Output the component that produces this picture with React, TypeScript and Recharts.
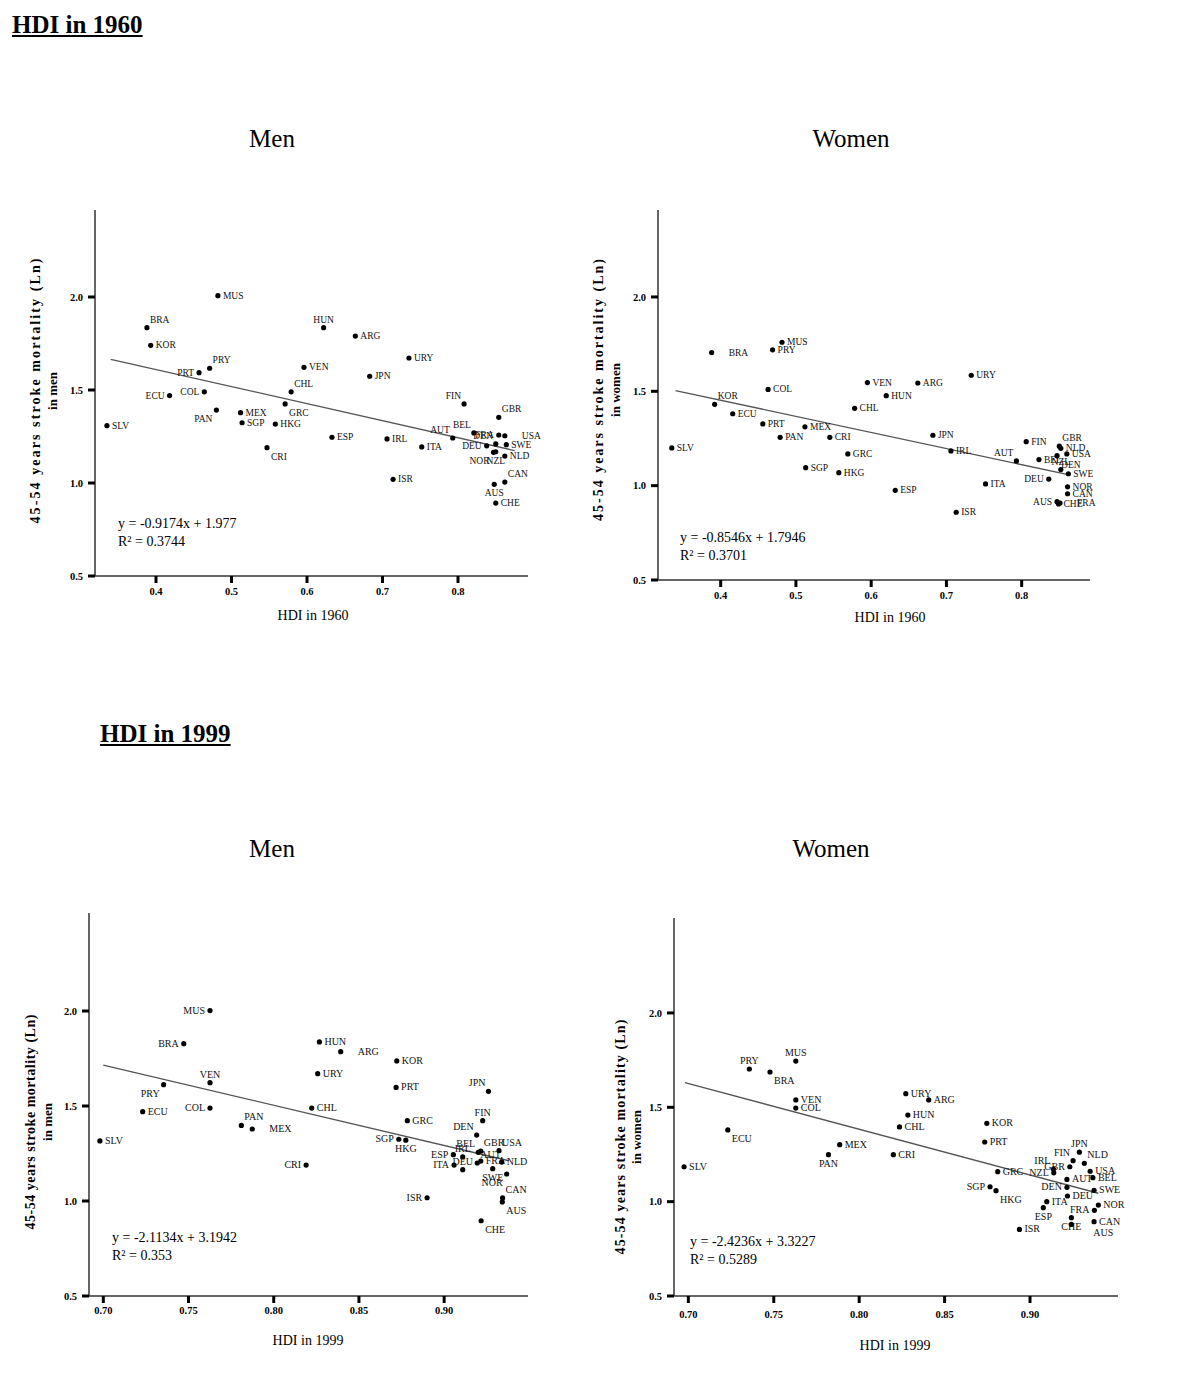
import React from "react";
import { ScatterChart, Scatter, XAxis, YAxis, ReferenceLine } from "recharts";

const SERIF = '"Liberation Serif", "Times New Roman", serif';

// HDI in 1960 - men
const men60Codes = ["SLV", "BRA", "KOR", "MUS", "PRY", "PRT", "ECU", "COL", "PAN", "MEX", "SGP", "HKG", "GRC", "CHL", "CRI", "VEN", "HUN", "ARG", "URY", "JPN", "ESP", "IRL", "ITA", "ISR", "FIN", "AUT", "BEL", "FRA", "USA", "GBR", "DEU", "DEN", "SWE", "NZL", "NOR", "NLD", "CAN", "AUS", "CHE"];
const men60Hdi = [0.335, 0.388, 0.393, 0.482, 0.471, 0.457, 0.418, 0.464, 0.48, 0.512, 0.514, 0.558, 0.571, 0.579, 0.547, 0.596, 0.622, 0.664, 0.735, 0.683, 0.633, 0.706, 0.752, 0.714, 0.808, 0.793, 0.821, 0.854, 0.862, 0.854, 0.838, 0.85, 0.864, 0.85, 0.847, 0.862, 0.862, 0.848, 0.85];
const men60Mort = [1.308, 1.835, 1.74, 2.007, 1.617, 1.593, 1.47, 1.49, 1.392, 1.378, 1.324, 1.317, 1.425, 1.49, 1.19, 1.622, 1.835, 1.79, 1.672, 1.574, 1.246, 1.237, 1.194, 1.02, 1.425, 1.242, 1.269, 1.258, 1.254, 1.353, 1.2, 1.21, 1.206, 1.168, 1.165, 1.145, 1.005, 0.993, 0.892];
const men60Fit = { slope: -0.9174, intercept: 1.977, from: 0.34, to: 0.875, eq: "y = -0.9174x + 1.977", r2: "R² = 0.3744" };

// HDI in 1960 - women
const women60Codes = ["SLV", "BRA", "MUS", "PRY", "KOR", "COL", "ECU", "PRT", "MEX", "PAN", "CRI", "GRC", "SGP", "HKG", "CHL", "VEN", "HUN", "ARG", "URY", "JPN", "IRL", "AUT", "ITA", "ESP", "ISR", "FIN", "GBR", "NLD", "USA", "BEL", "DEN", "NZL", "SWE", "DEU", "NOR", "CAN", "AUS", "CHE", "FRA"];
const women60Hdi = [0.335, 0.388, 0.4815, 0.469, 0.392, 0.463, 0.416, 0.456, 0.512, 0.479, 0.545, 0.569, 0.513, 0.557, 0.578, 0.595, 0.62, 0.662, 0.733, 0.682, 0.706, 0.793, 0.752, 0.632, 0.713, 0.806, 0.85, 0.852, 0.86, 0.823, 0.847, 0.852, 0.862, 0.836, 0.861, 0.861, 0.847, 0.849, 0.851];
const women60Mort = [1.2, 1.705, 1.76, 1.72, 1.431, 1.51, 1.381, 1.327, 1.312, 1.256, 1.256, 1.168, 1.095, 1.069, 1.41, 1.546, 1.477, 1.544, 1.585, 1.267, 1.184, 1.131, 1.009, 0.975, 0.859, 1.233, 1.209, 1.198, 1.168, 1.138, 1.159, 1.085, 1.063, 1.035, 0.994, 0.957, 0.915, 0.903, 0.908];
const women60Fit = { slope: -0.8546, intercept: 1.7946, from: 0.34, to: 0.865, eq: "y = -0.8546x + 1.7946", r2: "R² = 0.3701" };

// HDI in 1999 - men
const men99Codes = ["SLV", "MUS", "BRA", "VEN", "PRY", "ECU", "COL", "PAN", "MEX", "CRI", "HUN", "ARG", "KOR", "URY", "PRT", "JPN", "CHL", "FIN", "GRC", "SGP", "HKG", "DEN", "BEL", "GBR", "USA", "ESP", "IRL", "AUT", "FRA", "ITA", "DEU", "SWE", "NLD", "NOR", "CAN", "AUS", "ISR", "CHE"];
const men99Hdi = [0.698, 0.7626, 0.7472, 0.7626, 0.7354, 0.7231, 0.7626, 0.781, 0.7874, 0.819, 0.8268, 0.8393, 0.8722, 0.8258, 0.8718, 0.926, 0.8223, 0.9226, 0.8784, 0.8734, 0.8775, 0.9191, 0.92, 0.9215, 0.9322, 0.9054, 0.9109, 0.9194, 0.9215, 0.9058, 0.9109, 0.9285, 0.9338, 0.9367, 0.9343, 0.9341, 0.89, 0.9217];
const men99Mort = [1.316, 2.002, 1.828, 1.623, 1.612, 1.47, 1.489, 1.398, 1.379, 1.189, 1.837, 1.786, 1.737, 1.67, 1.598, 1.577, 1.489, 1.423, 1.423, 1.325, 1.32, 1.347, 1.256, 1.263, 1.265, 1.244, 1.232, 1.2, 1.21, 1.189, 1.165, 1.17, 1.205, 1.142, 1.016, 0.995, 1.017, 0.896];
const men99Fit = { slope: -2.1134, intercept: 3.1942, from: 0.7, to: 0.938, eq: "y = -2.1134x + 3.1942", r2: "R² = 0.353" };

// HDI in 1999 - women
const women99Codes = ["SLV", "PRY", "MUS", "BRA", "VEN", "COL", "ECU", "MEX", "PAN", "CRI", "URY", "ARG", "HUN", "CHL", "KOR", "PRT", "GRC", "SGP", "HKG", "ISR", "JPN", "FIN", "GBR", "NLD", "IRL", "NZL", "USA", "BEL", "AUT", "DEN", "DEU", "SWE", "ITA", "ESP", "FRA", "NOR", "CHE", "AUS", "CAN"];
const women99Hdi = [0.6975, 0.7357, 0.7629, 0.7478, 0.7629, 0.7629, 0.7231, 0.7886, 0.782, 0.82, 0.8273, 0.8407, 0.8285, 0.8236, 0.8747, 0.8735, 0.8811, 0.8766, 0.8801, 0.8938, 0.9289, 0.9252, 0.9233, 0.9318, 0.9137, 0.9139, 0.9352, 0.9368, 0.9216, 0.9216, 0.9219, 0.9375, 0.9098, 0.9078, 0.9377, 0.94, 0.9242, 0.9242, 0.9375];
const women99Mort = [1.185, 1.703, 1.745, 1.687, 1.539, 1.496, 1.38, 1.302, 1.249, 1.249, 1.572, 1.539, 1.459, 1.396, 1.415, 1.316, 1.159, 1.079, 1.058, 0.853, 1.262, 1.217, 1.185, 1.203, 1.173, 1.153, 1.161, 1.127, 1.118, 1.076, 1.03, 1.06, 1.0, 0.968, 0.954, 0.982, 0.915, 0.88, 0.894];
const women99Fit = { slope: -2.4236, intercept: 3.3227, from: 0.698, to: 0.94, eq: "y = -2.4236x + 3.3227", r2: "R² = 0.5289" };

// where each country label sits relative to its dot (default: right)
const men60Sides = { BRA: "tr", PRY: "tr", PRT: "l", ECU: "l", COL: "l", PAN: "bl", GRC: "br", CHL: "tr", CRI: "br", HUN: "t", FIN: "tl", AUT: "tl", BEL: "tl", FRA: "l", GBR: "tr", DEN: "tl", DEU: "l", NZL: "b", NOR: "bl", CAN: "tr", AUS: "b", USA: "rr" };
const women60Sides = { KOR: "tr", AUT: "tl", GBR: "tr", DEN: "br", NZL: "t", DEU: "l", AUS: "l", FRA: "rr", BRA: "rr" };
const men99Sides = { MUS: "l", BRA: "l", VEN: "t", PRY: "bl", COL: "l", PAN: "tr", MEX: "rr", CRI: "l", ARG: "rr", JPN: "tl", FIN: "t", SGP: "l", HKG: "b", DEN: "tl", BEL: "tl", GBR: "tr", USA: "tr", IRL: "t", ESP: "l", ITA: "l", DEU: "t", AUT: "tr", SWE: "b", NOR: "bl", CAN: "tr", AUS: "br", CHE: "br", ISR: "l" };
const women99Sides = { PRY: "t", MUS: "t", BRA: "br", ECU: "br", PAN: "b", SGP: "l", HKG: "br", JPN: "t", FIN: "tl", GBR: "l", IRL: "tl", NZL: "l", NLD: "tr", DEN: "l", ESP: "b", FRA: "l", CHE: "b", AUS: "brr" };

const OFFS: Record<string, [number, number, string]> = {
  r: [5, 3, "start"],
  rr: [17, 3, "start"],
  l: [-5, 3, "end"],
  t: [0, -5, "middle"],
  b: [0, 12, "middle"],
  tr: [3, -5, "start"],
  tl: [-3, -5, "end"],
  br: [4, 12, "start"],
  bl: [-4, 12, "end"],
  brr: [22, 12, "start"],
};

const toRows = (codes: string[], hdi: number[], mort: number[]) =>
  codes.map((c, i) => ({ code: c, x: hdi[i], y: mort[i] }));

function Panel(p: any) {
  const [pl, pt, pr, pb] = p.box;
  const cl = pl - 80;
  const ct = pt - 10;
  const w = pr - pl + 110;
  const h = pb - pt + 70;
  const sx = (x: number) => x - cl;
  const sy = (y: number) => y - ct;
  const data = toRows(p.codes, p.hdi, p.mort);
  const fit = p.fit;

  const dot = (props: any) => {
    const { cx, cy, payload } = props;
    const side = p.sides[payload.code] || "r";
    const [dx, dy, anchor] = OFFS[side];
    return (
      <g>
        <circle cx={cx} cy={cy} r={2.6} fill="#000" />
        <text x={cx + dx} y={cy + dy} textAnchor={anchor as any} fontSize={p.labelSize} fontFamily={SERIF} fill="#111">
          {payload.code}
        </text>
      </g>
    );
  };

  const yTitle = () => (
    <g fontFamily={SERIF} fontWeight="bold" fontSize={14} fill="#000">
      <text
        transform={`translate(${sx(p.yTitle[0])},${sy(p.yTitle[2])}) rotate(-90)`}
        textAnchor="middle"
        dominantBaseline="central"
        textLength={p.yTitle[3]}
        lengthAdjust="spacing"
      >
        45-54 years stroke mortality (Ln)
      </text>
      <text
        transform={`translate(${sx(p.yTitle[1])},${sy(p.yTitle[2])}) rotate(-90)`}
        textAnchor="middle"
        dominantBaseline="central"
        fontSize={13}
      >
        {p.yTitle2}
      </text>
    </g>
  );

  const xTitle = () => (
    <g fontFamily={SERIF} fill="#000">
      <text x={sx(p.xTitle[0])} y={sy(p.xTitle[1])} textAnchor="middle" fontSize={14}>
        {p.xLabel}
      </text>
      <text x={sx(p.eqPos[0])} y={sy(p.eqPos[1])} fontSize={14}>
        {fit.eq}
      </text>
      <text x={sx(p.eqPos[0])} y={sy(p.eqPos[1] + 18)} fontSize={14}>
        {fit.r2}
      </text>
    </g>
  );

  return (
    <div style={{ position: "absolute", left: cl, top: ct }}>
      <ScatterChart width={w} height={h} margin={{ top: 10, right: 30, bottom: 0, left: 50 }}>
        <XAxis
          type="number"
          dataKey="x"
          domain={p.xDomain}
          ticks={p.xTicks}
          tickFormatter={(v: number) => v.toFixed(p.xDigits)}
          height={60}
          axisLine={{ stroke: "#333", strokeWidth: 1.5 }}
          tickLine={{ stroke: "#000", strokeWidth: 3 }}
          tickSize={7}
          tickMargin={p.xTickGap}
          tick={{ fontSize: 10.5, fontWeight: "bold", fill: "#000", fontFamily: SERIF }}
          label={xTitle}
        />
        <YAxis
          type="number"
          dataKey="y"
          domain={p.yDomain}
          ticks={[0.5, 1.0, 1.5, 2.0]}
          tickFormatter={(v: number) => v.toFixed(1)}
          width={30}
          axisLine={{ stroke: "#333", strokeWidth: 1.5 }}
          tickLine={{ stroke: "#000", strokeWidth: 3 }}
          tickSize={7}
          tickMargin={5}
          tick={{ fontSize: 10.5, fontWeight: "bold", fill: "#000", fontFamily: SERIF }}
          label={yTitle}
        />
        <ReferenceLine
          segment={[
            { x: fit.from, y: fit.slope * fit.from + fit.intercept },
            { x: fit.to, y: fit.slope * fit.to + fit.intercept },
          ]}
          stroke="#555"
          strokeWidth={1.3}
          ifOverflow="visible"
        />
        <Scatter data={data} shape={dot} isAnimationActive={false} />
      </ScatterChart>
    </div>
  );
}

const heading = (text: string, left: number, top: number) => (
  <div
    style={{
      position: "absolute",
      left,
      top,
      fontFamily: SERIF,
      fontSize: 25,
      lineHeight: "25px",
      fontWeight: "bold",
      textDecoration: "underline",
      whiteSpace: "nowrap",
    }}
  >
    {text}
  </div>
);

const panelTitle = (text: string, cx: number, top: number) => (
  <div
    style={{
      position: "absolute",
      left: cx - 100,
      width: 200,
      top,
      textAlign: "center",
      fontFamily: SERIF,
      fontSize: 25,
      lineHeight: "25px",
    }}
  >
    {text}
  </div>
);

export default function App() {
  return (
    <div style={{ position: "absolute", left: 0, top: 0, width: 1200, height: 1380, background: "#fff" }}>
      {heading("HDI in 1960", 12, 12)}
      {panelTitle("Men", 272, 126)}
      {panelTitle("Women", 851, 126)}
      <Panel
        box={[95, 210, 528, 576]}
        xDomain={[0.3192, 0.8927]}
        yDomain={[0.5, 2.4677]}
        xTicks={[0.4, 0.5, 0.6, 0.7, 0.8]}
        xDigits={1}
        xTickGap={5}
        codes={men60Codes}
        hdi={men60Hdi}
        mort={men60Mort}
        sides={men60Sides}
        fit={men60Fit}
        labelSize={9.5}
        xLabel="HDI in 1960"
        xTitle={[313, 620]}
        eqPos={[118, 528]}
        yTitle={[35, 52, 391, 265]}
        yTitle2="in men"
      />
      <Panel
        box={[658, 210, 1090, 580]}
        xDomain={[0.3167, 0.8908]}
        yDomain={[0.5, 2.4608]}
        xTicks={[0.4, 0.5, 0.6, 0.7, 0.8]}
        xDigits={1}
        xTickGap={5}
        codes={women60Codes}
        hdi={women60Hdi}
        mort={women60Mort}
        sides={women60Sides}
        fit={women60Fit}
        labelSize={9.5}
        xLabel="HDI in 1960"
        xTitle={[890, 622]}
        eqPos={[680, 542]}
        yTitle={[598, 615, 390, 262]}
        yTitle2="in women"
      />
      {heading("HDI in 1999", 100, 721)}
      {panelTitle("Men", 272, 836)}
      {panelTitle("Women", 831, 836)}
      <Panel
        box={[89, 913, 528, 1296]}
        xDomain={[0.6916, 0.9492]}
        yDomain={[0.5, 2.5158]}
        xTicks={[0.7, 0.75, 0.8, 0.85, 0.9]}
        xDigits={2}
        xTickGap={4}
        codes={men99Codes}
        hdi={men99Hdi}
        mort={men99Mort}
        sides={men99Sides}
        fit={men99Fit}
        labelSize={10}
        xLabel="HDI in 1999"
        xTitle={[308, 1345]}
        eqPos={[112, 1242]}
        yTitle={[30, 47, 1122, 215]}
        yTitle2="in men"
      />
      <Panel
        box={[674, 918, 1118, 1296]}
        xDomain={[0.6916, 0.9515]}
        yDomain={[0.5, 2.5032]}
        xTicks={[0.7, 0.75, 0.8, 0.85, 0.9]}
        xDigits={2}
        xTickGap={8}
        codes={women99Codes}
        hdi={women99Hdi}
        mort={women99Mort}
        sides={women99Sides}
        fit={women99Fit}
        labelSize={10}
        xLabel="HDI in 1999"
        xTitle={[895, 1350]}
        eqPos={[690, 1246]}
        yTitle={[620, 636, 1137, 235]}
        yTitle2="in women"
      />
    </div>
  );
}
